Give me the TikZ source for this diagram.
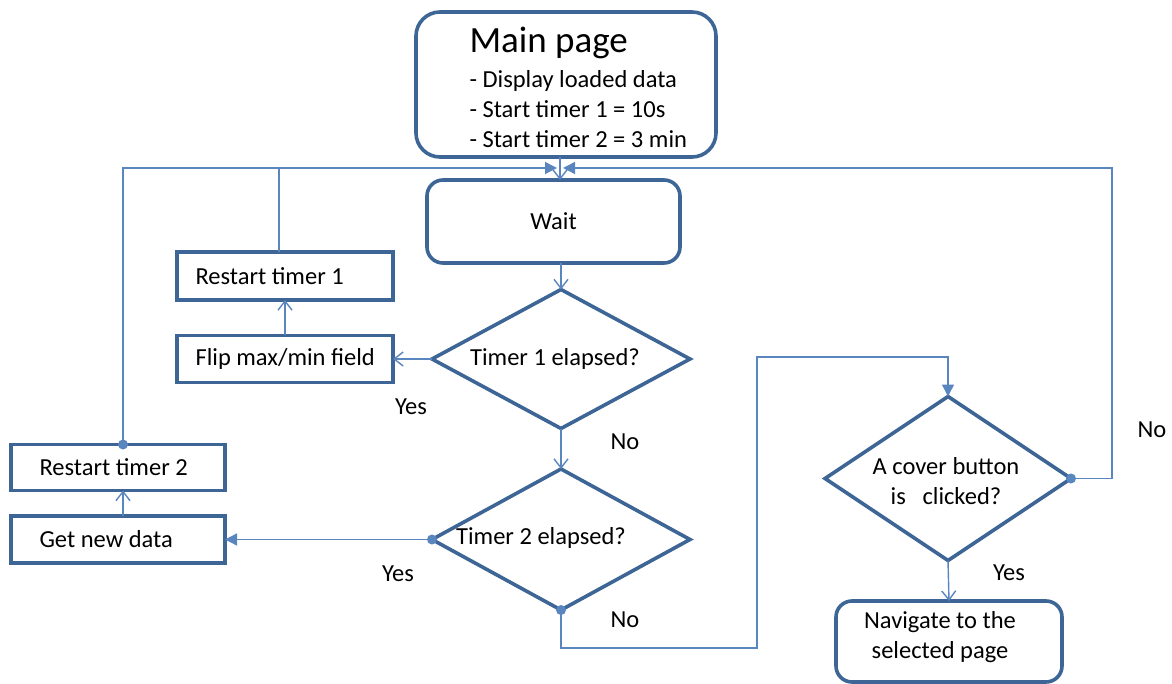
\documentclass[tikz,border=0pt]{standalone}
\usepackage{fontspec}
\setmainfont{Carlito}
\usetikzlibrary{arrows.meta,shapes.geometric}
\definecolor{boxc}{HTML}{3D6595}
\definecolor{linec}{HTML}{5A86C0}
\begin{document}
\begin{tikzpicture}[x=1pt,y=-1pt,
 every node/.style={font=\fontsize{24.5}{29.5}\selectfont},
 rbox/.style={draw=boxc, line width=3.6pt, rounded corners=16pt, inner sep=0pt, outer sep=0pt},
 sbox/.style={draw=boxc, line width=3.6pt, inner sep=0pt, outer sep=0pt},
 dec/.style={draw=boxc, line width=3.6pt, diamond, inner sep=0pt, outer sep=0pt},
 conn/.style={draw=linec, line width=1.4pt},
 oarr/.style={conn, -{Straight Barb[length=9pt,width=14pt]}},
 farr/.style={conn, -{Triangle[length=12pt,width=12pt]}},
 dotc/.style={fill=linec}
]
\useasboundingbox (0,0) rectangle (1172,684);

% boxes
\node[rbox, rounded corners=24pt, minimum width=300pt, minimum height=145pt] (main) at (566,84.5) {};
\node[anchor=base west, font=\fontsize{37}{44}\selectfont] (title) at (466,53) {Main page};
\node[anchor=base west] (l1) at (466,88) {- Display loaded data};
\node[anchor=base west] (l2) at (466,118) {- Start timer 1 = 10s};
\node[anchor=base west] (l3) at (466,148) {- Start timer 2 = 3 min};

\node[rbox, minimum width=253pt, minimum height=83pt] (wait) at (553.5,221.5) {Wait};

\node[sbox, minimum width=216pt, minimum height=48pt] (r1) at (285,276) {};
\node[anchor=west] (r1t) at (192,276) {Restart timer 1};
\node[sbox, minimum width=216pt, minimum height=47pt] (flip) at (285,359) {};
\node[anchor=west] (flipt) at (192,359) {Flip max/min field};
\node[sbox, minimum width=214pt, minimum height=46pt] (r2) at (118,467.5) {};
\node[anchor=west] (r2t) at (36,467.5) {Restart timer 2};
\node[sbox, minimum width=214pt, minimum height=47pt] (gnd) at (118,539.5) {};
\node[anchor=west] (gndt) at (36,539) {Get new data};

\node[dec, minimum width=258pt, minimum height=139pt] (d1) at (561,359) {};
\node (t1) at (555,359) {Timer 1 elapsed?};
\node[dec, minimum width=258pt, minimum height=141pt] (d2) at (561,539.5) {};
\node (t2) at (541,538) {Timer 2 elapsed?};
\node[dec, minimum width=246pt, minimum height=164pt] (d3) at (948,478.5) {};
\node[align=center] (t3) at (946,481) {A cover button\\is\ \ \ clicked?};

\node[rbox, minimum width=226pt, minimum height=81pt] (nav) at (949,641.5) {};
\node[align=center] (navt) at (940,637) {Navigate to the\\selected page};

% labels
\node (yes1) at (411,407) {Yes};
\node (no1) at (625,442) {No};
\node (yes2) at (398,574) {Yes};
\node (no2) at (625,620) {No};
\node (no3) at (1152,430) {No};
\node (yes3) at (1009,573) {Yes};

% junction coordinates
\coordinate (c0) at (560,168);
\coordinate (jl) at (557,168);
\coordinate (jr) at (563,168);
\coordinate (lx) at (123,168);
\coordinate (tx) at (279,168);
\coordinate (rx) at (1112,168);
\coordinate (b1) at (757,648);
\coordinate (b2) at (757,357);

% connectors
\draw[oarr] (main.south -| c0) -- (wait.north -| c0);
\draw[oarr] (wait.south -| d1.north) -- (d1.north);
\draw[oarr] (d1.west) -- (flip.east);
\draw[oarr] (flip.north) -- (r1.south);
\draw[conn] (r1.north -| tx) -- (tx);
\draw[oarr] (d1.south) -- (d2.north);
\draw[farr] (d2.west) -- (gnd.east |- d2.west);
\draw[oarr] (gnd.north -| lx) -- (r2.south -| lx);
\draw[farr] (r2.north -| lx) -- (lx) -- (jl);
\draw[farr] (d2.south) |- (b1) -- (b2) -| (d3.north);
\draw[farr] (d3.east) -| (rx) -- (jr);
\draw[oarr] (d3.south) -- (nav.north);

% dots
\fill[dotc] (d2.west) circle (5pt);
\fill[dotc] (d2.south) circle (5pt);
\fill[dotc] (d3.east) circle (5pt);
\fill[dotc] (r2.north -| lx) circle (5pt);
\end{tikzpicture}
\end{document}
